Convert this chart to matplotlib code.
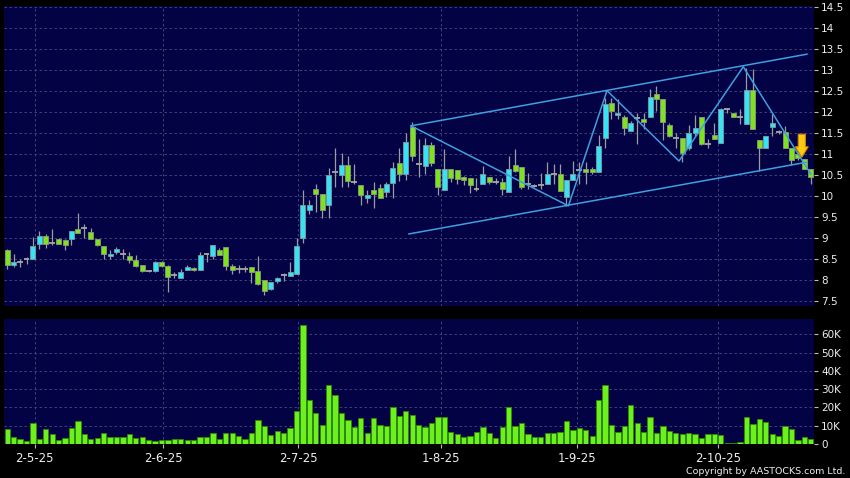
import numpy as np
import matplotlib.pyplot as plt
from matplotlib.patches import FancyArrow

# daily candles, late Apr 2025 -> mid Oct 2025 (one entry per trading day)
opens = [8.70, 8.36, 8.42, 8.50, 8.49, 8.84, 9.03, 8.88, 8.98, 8.95,
         8.98, 9.21, 9.24, 9.14, 8.96, 8.81, 8.57, 8.66, 8.61, 8.57,
         8.46, 8.34, 8.20, 8.20, 8.42, 8.33, 8.12, 8.04, 8.22, 8.27,
         8.22, 8.60, 8.56, 8.71, 8.79, 8.33, 8.25, 8.25, 8.29, 8.21,
         7.98, 7.77, 7.96, 8.10, 8.08, 8.13, 9.00, 9.67, 10.17, 10.05,
         9.79, 10.58, 10.50, 10.74, 10.34, 10.26, 9.94, 10.13, 10.19, 10.09,
         10.30, 10.79, 10.52, 11.65, 10.75, 10.71, 11.21, 10.64, 10.13, 10.63,
         10.61, 10.44, 10.42, 10.17, 10.28, 10.45, 10.33, 10.34, 10.10, 10.73,
         10.69, 10.28, 10.24, 10.25, 10.28, 10.52, 10.52, 9.98, 10.37, 10.62,
         10.65, 10.65, 10.56, 11.37, 12.22, 11.92, 11.87, 11.55, 11.85, 11.84,
         11.89, 12.42, 12.32, 11.68, 11.39, 11.39, 11.13, 11.49, 11.87, 11.23,
         11.44, 11.25, 12.06, 11.97, 11.87, 11.71, 12.52, 11.33, 11.15, 11.65,
         11.52, 11.52, 11.13, 11.00, 10.89, 10.63]
highs = [8.72, 8.60, 8.49, 8.55, 9.02, 9.15, 9.10, 9.20, 9.00, 8.97,
         9.17, 9.60, 9.33, 9.24, 8.98, 8.81, 8.70, 8.78, 8.73, 8.66,
         8.59, 8.36, 8.24, 8.45, 8.44, 8.34, 8.18, 8.26, 8.36, 8.31,
         8.67, 8.64, 8.83, 8.75, 8.79, 8.38, 8.36, 8.33, 8.29, 8.57,
         7.98, 7.95, 8.06, 8.15, 8.43, 9.00, 10.14, 9.90, 10.29, 10.05,
         10.67, 11.14, 11.02, 10.96, 10.76, 10.26, 10.14, 10.33, 10.27, 10.33,
         10.80, 11.13, 11.49, 11.75, 11.36, 11.38, 11.28, 10.64, 11.11, 10.63,
         10.61, 10.47, 10.42, 10.42, 10.71, 10.45, 10.42, 10.42, 10.95, 11.11,
         10.69, 10.54, 10.28, 10.54, 10.80, 10.77, 10.75, 10.37, 10.83, 10.81,
         10.81, 10.69, 11.44, 12.34, 12.34, 12.30, 11.92, 11.79, 11.97, 11.97,
         12.54, 12.62, 12.32, 11.74, 11.51, 11.39, 11.70, 11.94, 11.87, 11.35,
         11.74, 12.10, 12.10, 11.97, 12.06, 13.06, 13.02, 11.33, 11.43, 11.95,
         11.58, 11.67, 11.13, 11.05, 10.89, 10.63]
lows = [8.25, 8.31, 8.31, 8.38, 8.49, 8.74, 8.76, 8.82, 8.84, 8.70,
        8.83, 9.12, 8.99, 8.96, 8.80, 8.48, 8.50, 8.60, 8.50, 8.40,
        8.31, 8.19, 8.17, 8.18, 8.31, 7.71, 8.05, 8.03, 8.22, 8.20,
        8.22, 8.42, 8.50, 8.58, 8.24, 8.14, 8.15, 8.19, 7.93, 7.87,
        7.64, 7.74, 7.92, 7.96, 8.08, 8.13, 8.87, 9.57, 9.61, 9.48,
        9.48, 10.21, 10.21, 10.22, 10.28, 9.79, 9.83, 9.71, 9.94, 9.97,
        9.95, 10.35, 10.38, 10.84, 10.44, 10.52, 10.70, 10.02, 10.13, 10.32,
        10.28, 10.26, 10.06, 10.12, 10.28, 10.29, 10.27, 10.02, 10.10, 10.56,
        10.16, 10.16, 10.20, 10.16, 10.28, 10.28, 10.12, 9.76, 10.37, 10.28,
        10.28, 10.53, 10.56, 11.15, 11.83, 11.83, 11.44, 11.55, 11.23, 11.60,
        11.89, 12.02, 11.33, 11.40, 11.15, 10.80, 11.09, 11.43, 11.21, 11.15,
        11.35, 11.25, 11.98, 11.87, 11.71, 11.71, 11.60, 10.60, 11.15, 11.43,
        11.48, 11.15, 10.73, 10.85, 10.63, 10.28]
closes = [8.36, 8.41, 8.42, 8.50, 8.80, 9.03, 8.85, 8.88, 8.86, 8.83,
          9.17, 9.12, 9.24, 8.98, 8.83, 8.60, 8.62, 8.72, 8.61, 8.46,
          8.33, 8.21, 8.20, 8.42, 8.33, 8.07, 8.12, 8.19, 8.29, 8.22,
          8.58, 8.60, 8.83, 8.59, 8.33, 8.22, 8.25, 8.25, 8.18, 7.90,
          7.73, 7.95, 8.04, 8.10, 8.19, 8.81, 9.79, 9.79, 10.05, 9.65,
          10.50, 10.58, 10.74, 10.35, 10.34, 10.01, 10.02, 10.05, 9.95, 10.27,
          10.67, 10.52, 11.28, 10.94, 10.75, 11.21, 10.78, 10.22, 10.63, 10.42,
          10.40, 10.37, 10.25, 10.17, 10.52, 10.32, 10.33, 10.16, 10.65, 10.60,
          10.20, 10.28, 10.24, 10.25, 10.52, 10.52, 10.12, 10.37, 10.52, 10.62,
          10.56, 10.58, 11.19, 12.18, 12.02, 11.97, 11.63, 11.73, 11.85, 11.76,
          12.37, 12.32, 11.75, 11.43, 11.39, 11.02, 11.49, 11.61, 11.23, 11.23,
          11.35, 12.06, 12.06, 11.87, 11.87, 12.52, 11.60, 11.15, 11.43, 11.73,
          11.52, 11.15, 10.86, 10.90, 10.63, 10.46]
# volume in thousands
volumes = [8.3, 4.0, 2.8, 1.7, 11.4, 2.9, 8.1, 5.5, 2.2, 3.3,
           9.0, 12.5, 5.3, 2.8, 3.5, 6.1, 3.7, 3.9, 4.0, 5.5,
           3.3, 3.9, 2.2, 1.7, 2.2, 2.2, 2.9, 2.9, 2.2, 2.0,
           4.0, 4.0, 5.9, 2.6, 6.2, 6.2, 4.6, 2.9, 6.2, 13.0,
           9.9, 5.0, 7.0, 6.2, 8.8, 18.3, 65.1, 23.9, 16.7, 10.6,
           32.5, 26.8, 16.9, 13.4, 9.5, 14.3, 6.2, 14.5, 10.6, 10.1,
           20.2, 15.4, 18.3, 16.0, 10.6, 9.2, 11.6, 15.0, 15.0, 6.6,
           5.5, 3.9, 4.4, 6.8, 9.5, 5.9, 3.5, 9.4, 20.0, 9.9,
           11.6, 5.7, 3.9, 3.9, 6.2, 6.2, 6.6, 12.8, 7.5, 8.8,
           7.9, 4.2, 24.2, 32.3, 10.3, 6.6, 9.9, 21.5, 11.4, 6.8,
           14.7, 6.2, 9.7, 7.3, 6.1, 5.3, 6.1, 5.7, 3.5, 5.5,
           5.5, 4.8, 0.7, 0.6, 1.1, 15.0, 11.0, 13.6, 12.3, 5.7,
           4.6, 9.9, 8.4, 2.2, 3.7, 2.6]

date_ticks = [4.3, 24.3, 45.3, 67.5, 88.6, 110.6]
date_labels = ['2-5-25', '2-6-25', '2-7-25', '1-8-25', '1-9-25', '2-10-25']

# hand drawn channel + zigzag (bar index, price)
upper_x, upper_y = [62.8, 124.4], [11.67, 13.38]
lower_x, lower_y = [62.5, 124.3], [9.09, 10.80]
zig_x = [62.8, 87.3, 93.3, 104.5, 114.5, 125.0]
zig_y = [11.67, 9.76, 12.51, 10.83, 13.08, 10.52]

BG = '#020244'
GRID = '#4a4a7e'
CYAN = '#34e4f4'
GREEN = '#7ee21e'
LINE = '#3f9fdf'

o = np.array(opens); h = np.array(highs); l = np.array(lows); c = np.array(closes)
x = np.arange(len(o))

fig = plt.figure(figsize=(8.5, 4.78), dpi=100, facecolor='black')
ax = fig.add_axes([4/850, 1-306/478, 810/850, 300/478])
axv = fig.add_axes([4/850, 1-444/478, 810/850, 125/478])

for a in (ax, axv):
    a.set_facecolor(BG)
    for s in a.spines.values():
        s.set_visible(False)
    a.set_xlim(-0.5, 125.5)
    a.yaxis.tick_right()
    a.tick_params(axis='y', colors='#bbbbbb', labelcolor='#eeeeee', length=3,
                  width=0.8, pad=2, labelsize=7.5)
    a.grid(True, color=GRID, linestyle=(0, (3, 3)), linewidth=0.6)
    a.set_axisbelow(True)
    a.set_xticks(date_ticks)

# price panel
ax.set_ylim(7.37, 14.53)
ax.set_yticks(np.arange(7.5, 14.51, 0.5))
ax.set_yticklabels(['%g' % v for v in np.arange(7.5, 14.51, 0.5)])
ax.tick_params(axis='x', length=0, labelbottom=False)

ax.vlines(x, l, h, color='#9c9c9c', linewidth=0.9, zorder=2)
up = c > o + 0.005
dn = c < o - 0.005
dj = ~(up | dn)
ax.bar(x[up], (c - o)[up], bottom=o[up], width=0.78, color=CYAN,
       edgecolor='#7d9aa0', linewidth=0.6, zorder=3)
ax.bar(x[dn], (o - c)[dn], bottom=c[dn], width=0.78, color=GREEN,
       edgecolor='#8a9a7a', linewidth=0.6, zorder=3)
ax.hlines(c[dj], x[dj] - 0.45, x[dj] + 0.45, color='#a8a8a8', linewidth=1.3, zorder=3)

ax.plot(upper_x, upper_y, color=LINE, linewidth=1.1, zorder=4)
ax.plot(lower_x, lower_y, color=LINE, linewidth=1.1, zorder=4)
ax.plot(zig_x, zig_y, color=LINE, linewidth=1.1, zorder=4)

arr = FancyArrow(123.6, 11.47, 0, -0.55, width=1.1, head_width=2.0, head_length=0.25,
                 length_includes_head=True, facecolor='#ffc814', edgecolor='#d88a00',
                 linewidth=0.8, zorder=5)
ax.add_patch(arr)

# volume panel
axv.bar(x, volumes, width=0.82, color='#6cf01e', edgecolor='#2f8a00', linewidth=0.6, zorder=3)
axv.set_ylim(0, 68.4)
axv.set_yticks([0, 10, 20, 30, 40, 50, 60])
axv.set_yticklabels(['0', '10K', '20K', '30K', '40K', '50K', '60K'])
axv.set_xticklabels(date_labels)
axv.tick_params(axis='x', colors='#bbbbbb', labelcolor='#eeeeee', length=3,
                width=0.8, pad=3, labelsize=8.5)

fig.text(845/850, 1-471/478, 'Copyright by AASTOCKS.com Ltd.', color='#eeeeee',
         fontsize=6.8, ha='right', va='center')

fig.savefig('out.png', dpi=100, facecolor='black')
